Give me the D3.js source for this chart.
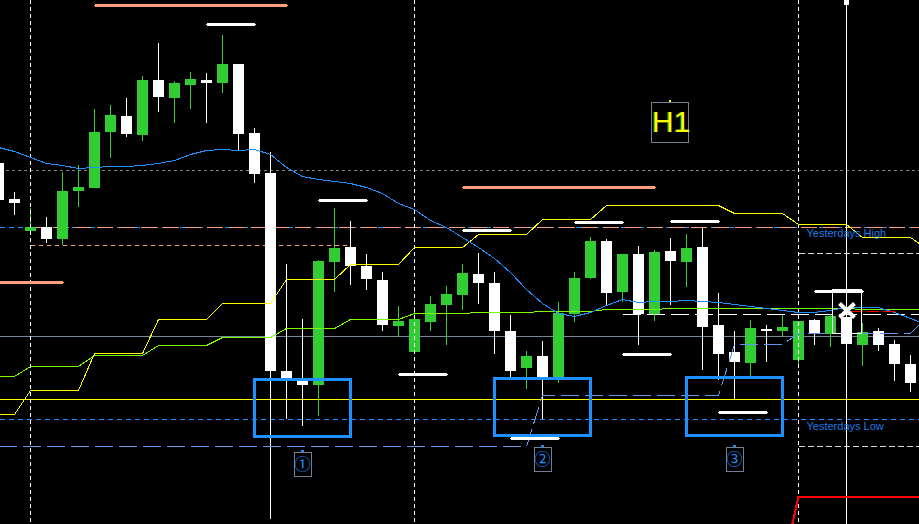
<!DOCTYPE html>
<html>
<head>
<meta charset="utf-8">
<script src="https://cdn.jsdelivr.net/npm/d3@7"></script>
<style>
html, body { margin: 0; padding: 0; background: #000; overflow: hidden; }
</style>
</head>
<body>
<div id="chart"></div>
<script>
// H1 bars, index -1 .. 56 (first bar is cut by the left edge)
var opens  = [1.3437,1.3401,1.3369,1.3373,1.3361,1.3409,1.3412,1.3468,1.3484,1.3465,1.3520,1.3502,1.3515,1.3520,1.3517,1.3536,1.3467,1.3427,1.3229,1.3219,1.3215,1.3338,1.3353,1.3334,1.3320,1.3274,1.3248,1.3278,1.3295,1.3305,1.3326,1.3317,1.3269,1.3232,1.3244,1.3221,1.3286,1.3322,1.3359,1.3308,1.3346,1.3286,1.3349,1.3338,1.3353,1.3275,1.3248,1.3237,1.3271,1.3269,1.3240,1.3280,1.3266,1.3283,1.3255,1.3269,1.3256,1.3236];
var highs  = [1.3443,1.3408,1.3392,1.3383,1.3428,1.3435,1.3491,1.3495,1.3502,1.3524,1.3557,1.3519,1.3528,1.3527,1.3565,1.3536,1.3472,1.3448,1.3336,1.3281,1.3340,1.3392,1.3379,1.3346,1.3328,1.3294,1.3293,1.3304,1.3314,1.3336,1.3347,1.3328,1.3285,1.3249,1.3259,1.3298,1.3328,1.3363,1.3361,1.3346,1.3354,1.3350,1.3362,1.3366,1.3372,1.3307,1.3269,1.3280,1.3275,1.3285,1.3279,1.3281,1.3286,1.3290,1.3277,1.3272,1.3260,1.3245];
var lows   = [1.3395,1.3385,1.3368,1.3357,1.3355,1.3393,1.3412,1.3442,1.3463,1.3459,1.3488,1.3477,1.3491,1.3477,1.3507,1.3450,1.3417,1.3081,1.3181,1.3174,1.3184,1.3308,1.3315,1.3310,1.3269,1.3263,1.3248,1.3269,1.3255,1.3290,1.3296,1.3246,1.3222,1.3211,1.3181,1.3217,1.3278,1.3321,1.3295,1.3298,1.3255,1.3279,1.3295,1.3313,1.3230,1.3220,1.3201,1.3224,1.3238,1.3263,1.3234,1.3255,1.3253,1.3256,1.3234,1.3249,1.3219,1.3208];
var closes = [1.3400,1.3397,1.3373,1.3361,1.3409,1.3413,1.3468,1.3485,1.3466,1.3520,1.3503,1.3517,1.3521,1.3517,1.3536,1.3466,1.3426,1.3229,1.3222,1.3215,1.3339,1.3352,1.3334,1.3321,1.3275,1.3279,1.3281,1.3296,1.3306,1.3327,1.3317,1.3269,1.3229,1.3244,1.3223,1.3287,1.3322,1.3359,1.3307,1.3346,1.3286,1.3348,1.3339,1.3352,1.3273,1.3246,1.3238,1.3272,1.3269,1.3273,1.3279,1.3266,1.3284,1.3256,1.3268,1.3255,1.3236,1.3217];

// indicators, one value per bar, index -1 .. 57 (last one is just past the right edge)
var maValues = [1.3453,1.3449,1.3443,1.3437,1.3435,1.3432,1.3433,1.3434,1.3434,1.3435,1.3437,1.3440,1.3446,1.3450,1.3451,1.3450,1.3451,1.3446,1.3433,1.3424,1.3421,1.3419,1.3417,1.3413,1.3407,1.3397,1.3391,1.3380,1.3373,1.3363,1.3353,1.3342,1.3328,1.3311,1.3297,1.3287,1.3284,1.3288,1.3295,1.3301,1.3298,1.3299,1.3299,1.3300,1.3299,1.3298,1.3296,1.3294,1.3292,1.3290,1.3288,1.3288,1.3290,1.3293,1.3293,1.3293,1.3288,1.3282,1.3276];
var h4Yellow = [1.3186,1.3186,1.3210,1.3210,1.3210,1.3210,1.3247,1.3247,1.3247,1.3247,1.3281,1.3281,1.3281,1.3281,1.3297,1.3297,1.3297,1.3297,1.3321,1.3321,1.3321,1.3321,1.3336,1.3336,1.3336,1.3336,1.3353,1.3353,1.3353,1.3353,1.3366,1.3366,1.3366,1.3366,1.3381,1.3381,1.3381,1.3381,1.3395,1.3395,1.3395,1.3395,1.3395,1.3395,1.3395,1.3395,1.3387,1.3387,1.3387,1.3387,1.3376,1.3376,1.3376,1.3376,1.3363,1.3363,1.3363,1.3363,1.3352];
var h4Green = [1.3224,1.3224,1.3234,1.3234,1.3234,1.3234,1.3245,1.3245,1.3245,1.3245,1.3255,1.3255,1.3255,1.3255,1.3263,1.3263,1.3263,1.3263,1.3272,1.3272,1.3272,1.3272,1.3281,1.3281,1.3281,1.3281,1.3287,1.3287,1.3287,1.3287,1.3288,1.3288,1.3288,1.3288,1.3289,1.3289,1.3289,1.3289,1.3291,1.3291,1.3291,1.3291,1.3292,1.3292,1.3292,1.3292,1.3292,1.3292,1.3292,1.3292,1.3292,1.3292,1.3292,1.3292,1.3291,1.3291,1.3291,1.3291,1.3291];
var stepBlue = [1.3154,1.3154,1.3154,1.3154,1.3154,1.3154,1.3154,1.3154,1.3154,1.3154,1.3154,1.3154,1.3154,1.3154,1.3154,1.3154,1.3154,1.3154,1.3154,1.3154,1.3154,1.3154,1.3154,1.3154,1.3154,1.3154,1.3154,1.3154,1.3154,1.3154,1.3154,1.3154,1.3154,1.3154,1.3205,1.3205,1.3205,1.3205,1.3205,1.3205,1.3205,1.3205,1.3205,1.3205,1.3205,1.3205,1.3256,1.3256,1.3256,1.3256,1.3267,1.3267,1.3267,1.3267,1.3267,1.3267,1.3267,1.3267,1.3283];
var redStep = [[48,1.3032],[49,1.3104],[50,1.3104],[51,1.3104],[52,1.3104],[53,1.3104],[54,1.3104],[55,1.3104],[56,1.3104],[57,1.3104]];

// full width levels
var grayLevel = 1.3430;
var yHigh = 1.3373;
var yLow = 1.3181;
var slateLevel = 1.3264;
var yellowLevel = 1.3201;

// thick segments [from bar, to bar, price]
var salmonSegs = [[5,17,1.3595],[-1,3,1.3318],[28,40,1.3413]];
var whiteSegs = [[12,15,1.3576],[19,22,1.3400],[28,31,1.3370],[35,38,1.3378],[41,44,1.3379],[24,27,1.3226],[38,41,1.3246],[44,47,1.3188],[31,34,1.3162],[50,53,1.3309]];

// dashed partial levels [from bar, to bar, price]
var salmonLong = [1, 57, 1.3373];
var salmonShort = [1, 21, 1.3355];
var whiteDash = [38, 57, 1.3286];
var dayDashes = [[49, 57, 1.3347], [49, 57, 1.3154]];
var redDash = [52, 55, 1.3289];

var separators = [1, 25, 49];
var cursorBar = 52;

// boxes [from bar, to bar, top price, bottom price]
var boxes = [[15,21,1.3221,1.3164],[30,36,1.3222,1.3165],[42,48,1.3223,1.3165]];
var boxLabels = ["\u2460", "\u2461", "\u2462"];
var labelBars = [18, 33, 45];
var labelPrices = [1.3150, 1.3155, 1.3155];

var width = 919, height = 524;

var bars = [];
for (var k = 0; k < maValues.length; k++) {
    bars.push({i: k - 1, o: opens[k], h: highs[k], l: lows[k], c: closes[k],
               ma: maValues[k], yl: h4Yellow[k], gr: h4Green[k], sb: stepBlue[k]});
}
var candles = bars.filter(function(d) { return d.o !== undefined; });

var x = d3.scaleLinear().domain([-1, 56]).range([-1.5, 910.5]);
var y = d3.scaleLinear().domain([1.3600, 1.3076]).range([0, height]);
function Y(p) { return Math.round(y(p)) + 0.5; }
function R(p) { return Math.round(y(p)); }

var svg = d3.select("#chart").append("svg")
    .attr("width", width)
    .attr("height", height)
    .style("display", "block")
    .style("background", "#000");

var g = svg.append("g").attr("shape-rendering", "crispEdges");

function hline(p, x1, x2, color, w, dash) {
    g.append("line")
        .attr("x1", x1).attr("x2", x2)
        .attr("y1", Y(p)).attr("y2", Y(p))
        .attr("stroke", color)
        .attr("stroke-width", w)
        .attr("stroke-dasharray", dash || null);
}

// horizontal levels
hline(grayLevel, 0, width, "#808080", 1, "3,3");
hline(yHigh, 0, width, "#1E90FF", 1, "5,4");
hline(salmonLong[2], x(salmonLong[0]), x(salmonLong[1]), "#FFA07A", 1, "16,6");
hline(salmonShort[2], x(salmonShort[0]), x(salmonShort[1]), "#FFA07A", 1, "4,4");
hline(slateLevel, 0, width, "#778899", 1);
hline(yellowLevel, 0, width, "#FFFF00", 1);
hline(yLow, 0, width, "#1E90FF", 1, "5,4");
hline(whiteDash[2], x(whiteDash[0]), x(whiteDash[1]), "#FFFFFF", 1, "18,6");
dayDashes.forEach(function(d) {
    hline(d[2], x(d[0]), x(d[1]), "#D8D8D8", 1, "6,3");
});

// candles
var candle = g.selectAll(".candle")
    .data(candles)
    .enter().append("g")
    .attr("class", "candle");

candle.append("line")
    .attr("x1", function(d) { return x(d.i); })
    .attr("x2", function(d) { return x(d.i); })
    .attr("y1", function(d) { return R(d.h); })
    .attr("y2", function(d) { return R(d.l); })
    .attr("stroke", function(d) { return d.c > d.o ? "#32CD32" : "#FFFFFF"; })
    .attr("stroke-width", 1);

candle.append("rect")
    .attr("x", function(d) { return x(d.i) - 5.5; })
    .attr("width", 11)
    .attr("y", function(d) { return R(Math.max(d.o, d.c)); })
    .attr("height", function(d) { return Math.max(1, Math.abs(R(d.o) - R(d.c))); })
    .attr("fill", function(d) { return d.c > d.o ? "#32CD32" : "#FFFFFF"; });

// period separators and cursor line
separators.forEach(function(s) {
    g.append("line")
        .attr("x1", x(s)).attr("x2", x(s))
        .attr("y1", 0).attr("y2", height)
        .attr("stroke", "#FFFFFF")
        .attr("stroke-dasharray", "4,3");
});
g.append("line")
    .attr("x1", x(cursorBar)).attr("x2", x(cursorBar))
    .attr("y1", 0).attr("y2", height)
    .attr("stroke", "#FFFFFF");
g.append("rect")
    .attr("x", x(cursorBar) - 2.5).attr("y", 0)
    .attr("width", 5).attr("height", 5)
    .attr("fill", "#FFFFFF");

// indicator lines
function seriesLine(key) {
    return d3.line()
        .x(function(d) { return x(d.i); })
        .y(function(d) { return Y(d[key]); });
}

g.append("path").datum(bars)
    .attr("d", seriesLine("sb"))
    .attr("fill", "none").attr("stroke", "#6495ED")
    .attr("stroke-width", 1).attr("stroke-dasharray", "18,6");

g.append("path").datum(bars)
    .attr("d", seriesLine("gr"))
    .attr("fill", "none").attr("stroke", "#7CFC00").attr("stroke-width", 1);

g.append("path").datum(bars)
    .attr("d", seriesLine("yl"))
    .attr("fill", "none").attr("stroke", "#FFFF00").attr("stroke-width", 1);

g.append("path").datum(bars)
    .attr("d", seriesLine("ma"))
    .attr("fill", "none").attr("stroke", "#1E90FF").attr("stroke-width", 1);

g.append("path").datum(redStep)
    .attr("d", d3.line()
        .x(function(d) { return x(d[0]); })
        .y(function(d) { return Y(d[1]); }))
    .attr("fill", "none").attr("stroke", "#FF0000").attr("stroke-width", 2);

hline(redDash[2], x(redDash[0]) + 4, x(redDash[1]), "#FF0000", 1, "12,4");

// thick segments
function thickSeg(s, color) {
    hline(s[2], x(s[0]) - 1, x(s[1]) + 1, color, 1);
    hline(s[2], x(s[0]), x(s[1]), color, 3);
}
salmonSegs.forEach(function(s) { thickSeg(s, "#FFA07A"); });
whiteSegs.forEach(function(s) { thickSeg(s, "#FFFFFF"); });

// boxes
boxes.forEach(function(b) {
    g.append("rect")
        .attr("x", x(b[0])).attr("y", R(b[2]) + 0.5)
        .attr("width", x(b[1]) - x(b[0]))
        .attr("height", R(b[3]) - R(b[2]))
        .attr("fill", "none")
        .attr("stroke", "#1E90FF")
        .attr("stroke-width", 3);
});

// circled number labels
boxLabels.forEach(function(t, k) {
    var cx = x(labelBars[k]);
    var top = R(labelPrices[k]) + 2;
    g.append("rect")
        .attr("x", cx - 8.5).attr("y", top + 0.5)
        .attr("width", 17).attr("height", 24)
        .attr("fill", "none").attr("stroke", "#708090");
    g.append("rect")
        .attr("x", cx - 1.5).attr("y", top - 2)
        .attr("width", 3).attr("height", 2)
        .attr("fill", "#1E90FF");
    svg.append("text")
        .attr("x", cx).attr("y", top + 18)
        .attr("text-anchor", "middle")
        .attr("font-family", "'Noto Sans CJK JP', 'DejaVu Sans', sans-serif")
        .attr("font-size", 16)
        .attr("fill", "#1E90FF")
        .text(t);
});

// yesterday labels
svg.append("text")
    .attr("x", x(separators[2]) + 8).attr("y", Y(yHigh) + 9.5)
    .attr("font-family", "'Liberation Sans', Arial, sans-serif")
    .attr("font-size", 11).attr("fill", "#1F7BE0")
    .text("Yesterdays High");
svg.append("text")
    .attr("x", x(separators[2]) + 8).attr("y", Y(yLow) + 10.5)
    .attr("font-family", "'Liberation Sans', Arial, sans-serif")
    .attr("font-size", 11).attr("fill", "#1F7BE0")
    .text("Yesterdays Low");

// timeframe label
var tfBar = 41, tfPrice = 1.3500;
g.append("rect")
    .attr("x", x(tfBar) - 19).attr("y", R(tfPrice) + 2.5)
    .attr("width", 37).attr("height", 40)
    .attr("fill", "none").attr("stroke", "#708090");
g.append("rect")
    .attr("x", x(tfBar) - 1.5).attr("y", R(tfPrice))
    .attr("width", 2).attr("height", 2)
    .attr("fill", "#FFFF00");
svg.append("text")
    .attr("x", x(tfBar) - 19.5).attr("y", R(tfPrice) + 32)
    .attr("font-family", "'Liberation Sans', Arial, sans-serif")
    .attr("font-size", 30).attr("fill", "#228B22")
    .text("H1");
svg.append("text")
    .attr("x", x(tfBar) - 18.5).attr("y", R(tfPrice) + 32)
    .attr("font-family", "'Liberation Sans', Arial, sans-serif")
    .attr("font-size", 30).attr("fill", "#FFFF00")
    .text("H1");

// cursor marker
var markX = x(cursorBar), markY = Y(1.3290);
g.append("rect")
    .attr("x", markX - 14).attr("y", markY - 21)
    .attr("width", 29).attr("height", 44)
    .attr("fill", "none").attr("stroke", "#FFFFFF");
svg.append("path")
    .attr("d", "M" + (markX - 7) + "," + (markY - 7) + "L" + (markX + 8) + "," + (markY + 7) +
               "M" + (markX - 7) + "," + (markY + 7) + "L" + (markX + 8) + "," + (markY - 7))
    .attr("stroke", "#FFFFFF").attr("stroke-width", 4).attr("fill", "none");
</script>
</body>
</html>
